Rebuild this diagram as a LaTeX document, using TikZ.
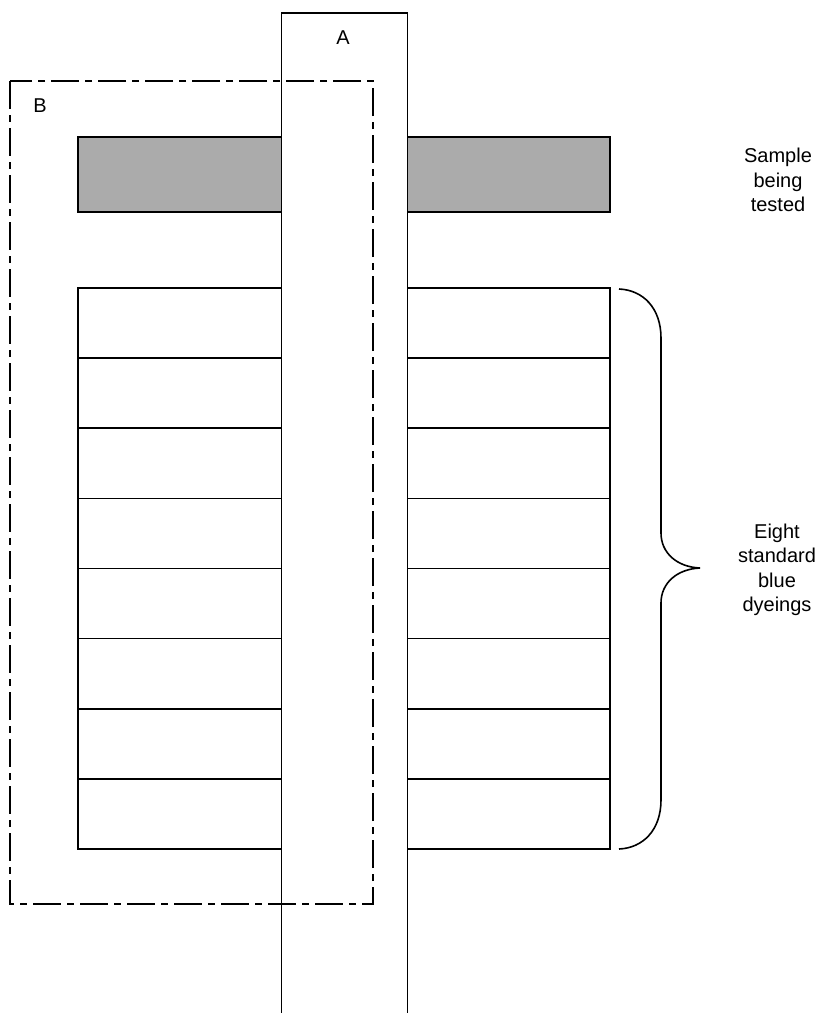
\documentclass[tikz,border=0pt]{standalone}
\usepackage{fontspec}
\setmainfont{Liberation Sans}
\begin{document}
\begin{tikzpicture}[x=1pt,y=-1pt,
  line/.style={line width=1.7pt, line join=miter},
  samplebox/.style={line, fill=black!33},
  dyeing/.style={line, fill=white},
  stripA/.style={fill=white},
  frameB/.style={line width=1.7pt, dash pattern=on 28pt off 6pt on 7pt off 6pt},
  lab/.style={font=\fontsize{20}{24}\selectfont, inner sep=0pt},
  side/.style={font=\fontsize{20}{24.5}\selectfont, align=center, inner sep=0pt},
  bracepath/.style={line width=1.6pt}]
\useasboundingbox (0,0) rectangle (821,1013);
% sample being tested
\draw[samplebox] (78,137) rectangle (610,212);
% eight standard dyeings
\draw[dyeing] (78,288) rectangle (610,849);
\foreach \k in {1,...,7} {
  \draw[line] (78,{288+\k*70.125}) -- (610,{288+\k*70.125});
}
% strip A (opaque, open at bottom)
\fill[stripA] (281.5,13) rectangle (407.5,1013);
\draw[line] (281.5,1013) -- (281.5,13) -- (407.5,13) -- (407.5,1013);
\node[lab] (A) at (343,38) {A};
% frame B (dash-dot)
\draw[frameB] (10,81) rectangle (373,904);
\node[lab] (B) at (40,106) {B};
% brace
\coordinate (bt) at (619,289);
\coordinate (bb) at (619,849);
\coordinate (tip) at (700,568);
\draw[bracepath] (bt) .. controls (643,290) and (661,308) .. (661,338)
  -- (661,533) .. controls (661,553) and (677,567) .. (tip)
  .. controls (677,569) and (661,583) .. (661,603)
  -- (661,800) .. controls (661,830) and (643,848) .. (bb);
% side labels
\node[side] (sample) at (778,180) {Sample\\being\\tested};
\node[side] (eight) at (777,570) {Eight\\standard\\blue\\dyeings};
\end{tikzpicture}
\end{document}
